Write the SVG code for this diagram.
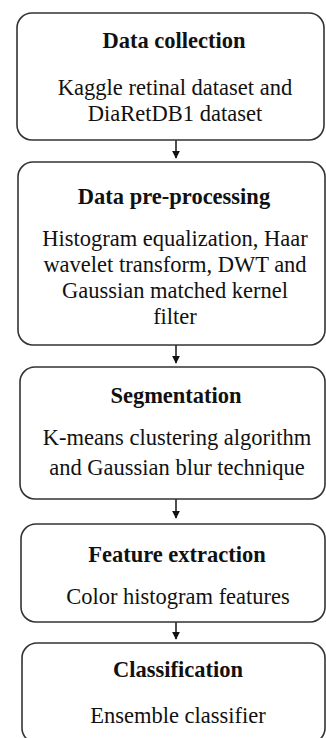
<svg xmlns="http://www.w3.org/2000/svg" width="326" height="738" viewBox="0 0 326 738">
<defs>
<style>
.box{fill:#fff;stroke:#333;stroke-width:1.6}
.t{font-size:22.5px;fill:#111;text-anchor:middle}
.b{font-weight:bold}
.c{stroke:#222;stroke-width:1.6;fill:none}
</style>
<marker id="ah" viewBox="0 0 10 10" refX="9" refY="5" markerWidth="8" markerHeight="8" markerUnits="userSpaceOnUse" orient="auto">
<path d="M0,0 L10,5 L0,10 z" fill="#111"/>
</marker>
</defs>
<rect width="326" height="738" fill="#fff"/>
<g id="connectors">
<line class="c" x1="176" y1="140" x2="176" y2="158" marker-end="url(#ah)"/>
<line class="c" x1="176" y1="345" x2="176" y2="363" marker-end="url(#ah)"/>
<line class="c" x1="176" y1="499" x2="176" y2="518" marker-end="url(#ah)"/>
<line class="c" x1="176" y1="622" x2="176" y2="639" marker-end="url(#ah)"/>
</g>
<g font-family="Liberation Serif, Times New Roman, DejaVu Serif, serif">
<g id="n1">
<rect class="box" x="17" y="13" width="307" height="127" rx="15"/>
<text class="t b" x="174" y="48">Data collection</text>
<text class="t" x="175" y="95">Kaggle retinal dataset and</text>
<text class="t" x="175" y="121">DiaRetDB1 dataset</text>
</g>
<g id="n2">
<rect class="box" x="18" y="162" width="307" height="183" rx="15"/>
<text class="t b" x="174" y="204">Data pre-processing</text>
<text class="t" x="175" y="246">Histogram equalization, Haar</text>
<text class="t" x="175" y="272">wavelet transform, DWT and</text>
<text class="t" x="175" y="298">Gaussian matched kernel</text>
<text class="t" x="175" y="324">filter</text>
</g>
<g id="n3">
<rect class="box" x="20" y="367" width="305" height="132" rx="15"/>
<text class="t b" x="176" y="403">Segmentation</text>
<text class="t" x="177" y="445">K-means clustering algorithm</text>
<text class="t" x="177" y="475">and Gaussian blur technique</text>
</g>
<g id="n4">
<rect class="box" x="21" y="524" width="304" height="98" rx="15"/>
<text class="t b" x="177" y="562">Feature extraction</text>
<text class="t" x="178" y="604">Color histogram features</text>
</g>
<g id="n5">
<rect class="box" x="22" y="643" width="303" height="100" rx="15"/>
<text class="t b" x="178" y="677">Classification</text>
<text class="t" x="178" y="723">Ensemble classifier</text>
</g>
</g>
</svg>
